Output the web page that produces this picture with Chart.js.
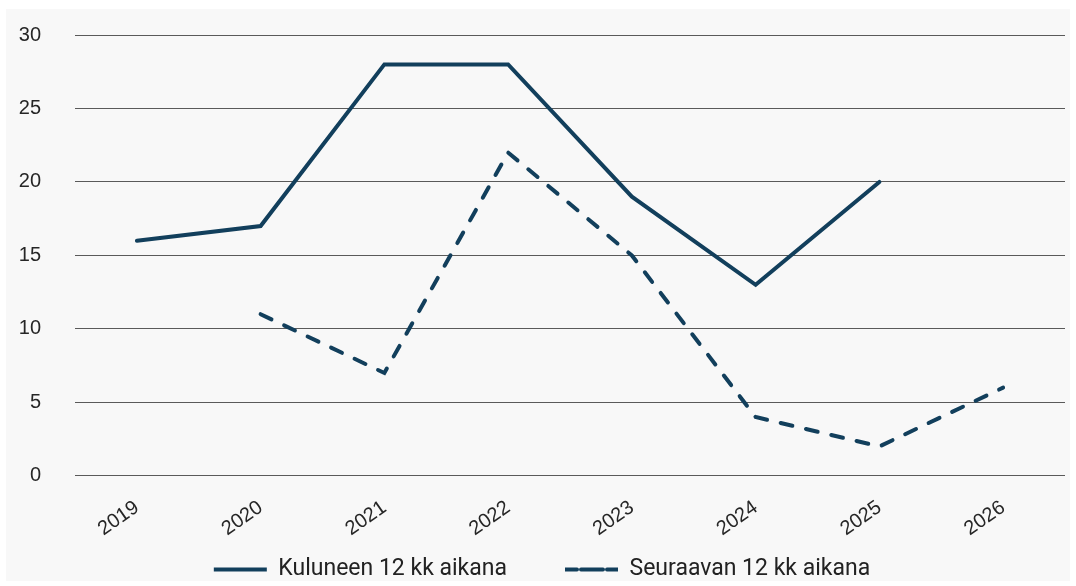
<!DOCTYPE html>
<html><head><meta charset="utf-8">
<script src="https://cdn.jsdelivr.net/npm/chart.js@4"></script>
<style>
html,body{margin:0;padding:0;background:#fff;}
#wrap{position:absolute;left:6px;top:9px;width:1064px;height:572px;background:#f8f8f8;}
canvas{display:block;}
</style></head><body>
<div id="wrap"><canvas id="c" width="1064" height="572"></canvas></div>
<script>
const categories = ['2019','2020','2021','2022','2023','2024','2025','2026'];
const pastValues = [16, 17, 28, 28, 19, 13, 20, null];
const nextValues = [null, 11, 7, 22, 15, 4, 2, 6];
const yTicks = [0, 5, 10, 15, 20, 25, 30];
const seriesNames = ['Kuluneen 12 kk aikana', 'Seuraavan 12 kk aikana'];
const lineColor = '#123f5c';

const legendShift = {
  id: 'legendShift',
  afterLayout(chart) {
    const l = chart.legend;
    if (!l) return;
    const pad = l.options.labels.padding;
    l.top = 549 - pad;
    l.bottom = chart.height;
    l.height = l.bottom - l.top;
  }
};

new Chart(document.getElementById('c'), {
  type: 'line',
  data: {
    labels: categories,
    datasets: [
      {label: seriesNames[0], data: pastValues, borderColor: lineColor, backgroundColor: lineColor,
       borderWidth: 4, pointRadius: 0, tension: 0, borderJoinStyle: 'miter', borderCapStyle: 'round'},
      {label: seriesNames[1], data: nextValues, borderColor: lineColor, backgroundColor: lineColor,
       borderWidth: 4, borderDash: [12, 14], borderCapStyle: 'round', pointRadius: 0, tension: 0}
    ]
  },
  options: {
    responsive: false,
    animation: false,
    devicePixelRatio: 1,
    layout: {padding: {left: 13, right: 5, top: 26, bottom: 0}},
    plugins: {
      legend: {
        position: 'bottom',
        maxHeight: 20,
        labels: {
          boxWidth: 53, boxHeight: 0,
          color: '#222', font: {family: 'Roboto', size: 23}, padding: 58
        }
      },
      tooltip: {enabled: false}
    },
    scales: {
      x: {
        offset: true,
        grid: {display: false, drawTicks: false},
        border: {display: false},
        afterFit: (s) => { s.paddingLeft = 0; s.paddingRight = 0; },
        ticks: {minRotation: 35, maxRotation: 35, color: '#262626', font: {family: 'Liberation Sans', size: 20}, padding: 20}
      },
      y: {
        min: 0, max: 30,
        afterBuildTicks: (s) => { s.ticks = yTicks.map(v => ({value: v})); },
        afterFit: (s) => { s.paddingTop = 0; s.width = 56; },
        grid: {color: '#5a5a5a', lineWidth: 1, drawTicks: false},
        border: {display: false},
        ticks: {color: '#262626', font: {family: 'Liberation Sans', size: 20}, padding: 34}
      }
    }
  },
  plugins: [legendShift]
});
</script>
</body></html>
